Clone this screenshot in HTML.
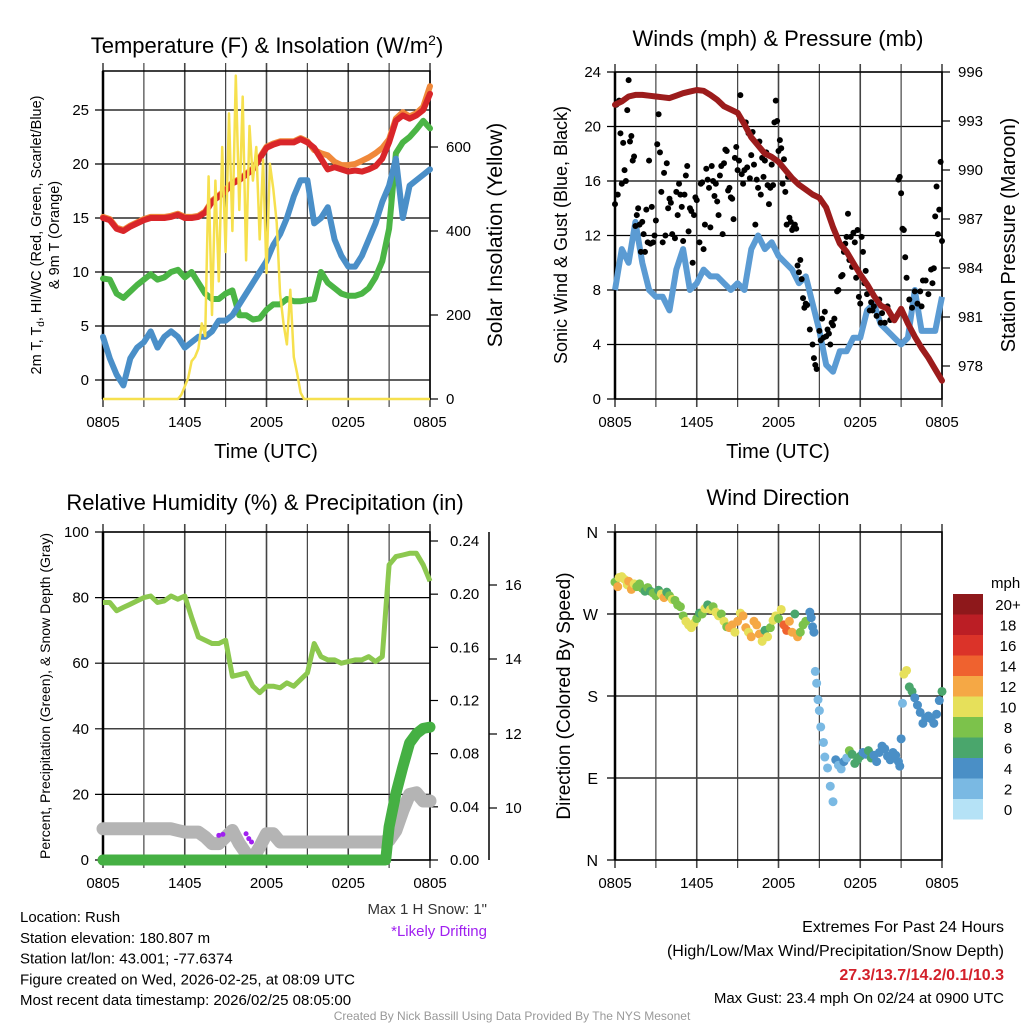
<!DOCTYPE html>
<html><head><meta charset="utf-8"><style>
html,body{margin:0;padding:0;background:#fff;}
svg{display:block;font-family:"Liberation Sans",sans-serif;}
</style></head><body>
<svg id="c" width="1024" height="1024" viewBox="0 0 1024 1024"></svg>
<script>
// ---------- DATA ----------
const tickLabels = ["0805","1405","2005","0205","0805"];
// Panel 1 (every 0.5 h)
const tempRed = [15,14.8,14,13.8,14.2,14.5,14.8,15,15,15,15.1,15.3,15,15,15.1,15.5,16.5,17,17.5,18.2,18.5,19,19.5,20.5,21.5,21.8,22,22,22,22.3,22,21.5,20.5,19.5,19.7,19.5,19.3,19.4,19.3,19.5,19.8,20.5,22,24,24.5,24.2,24.5,25,26.5,27.5].slice(0,49);
const temp9mOrange = [15.1,14.9,14.1,13.9,14.3,14.6,14.9,15.1,15.1,15.1,15.2,15.4,15.1,15.1,15.2,15.6,16.6,17.1,17.6,18.3,18.6,19.1,19.6,20.6,21.6,21.9,22.1,22.1,22.1,22.4,22.1,21.3,21,20.8,20.2,19.9,19.9,20,20.3,20.6,21,21.5,22.3,24.2,24.8,24.4,24.7,25.3,27.2];
const dewGreen = [9.4,9.3,8,7.6,8.2,8.8,9.3,9.8,9.3,9.5,10,10.2,9.5,10,9,8,7.5,7.5,8,8.3,6,6,5.6,5.7,6.5,7,7,7.5,7.3,7.3,7.4,7.5,10,9,8.5,8,7.8,7.8,8,8.5,9.5,11,14,21,22,22.5,23.2,24,23.3];
const wcBlue = [4,2,0.5,-0.5,2,3,3.5,4.5,3,4,4.5,4,3,3.5,4,4,4.5,5.5,5.5,6,7,8,9,10,11,12.5,13.5,15,17,18.5,18.5,14.5,15,16,13,11.5,10.5,10.5,11.5,13,14.5,16.5,18,20.5,15,18,18.5,19,19.5];
// insolation every 0.25 h
const insolation = [0,0,0,0,0,0,0,0,0,0,0,0,0,0,0,0,0,0,0,0,0,0,0,
 10,30,50,90,100,120,180,150,530,200,520,280,600,350,680,400,770,450,720,330,650,520,600,380,570,300,560,500,420,250,180,130,260,100,60,15,0,
 0,0,0,0,0,0,0,0,0,0,0,0,0,0,0,0,0,0,0,0,0,0,0,0,0,0,0,0,0,0,0,0,0,0,0,0,0];
// Panel 2
const windSpeed = [8,11,10,13,10,8,7.5,7.5,6.5,9.5,11,8,8.5,9.5,9,9,8.5,8,8.5,8,11,12,11,11.5,10.5,10,9.5,8.5,9,7,5,2.5,2,3.5,3.5,4.5,4.5,6.5,7,5.5,5,4.5,4,4.5,8,5,5,5,7.5];
const pressure = [994.0,994.2,994.5,994.6,994.6,994.55,994.5,994.45,994.4,994.55,994.7,994.8,994.9,994.85,994.6,994.3,993.9,993.7,993.5,992.8,992.0,991.5,991.0,990.8,990.5,990.0,989.5,989.1,988.8,988.5,988.3,987.7,986.5,985.5,985.0,984.3,983.6,983.0,982.3,981.7,981.5,980.8,981.5,980.6,979.8,979.1,978.5,977.8,977.1];
const gustHours = [0,0.1,0.2,0.3,0.4,0.5,0.6,0.7,0.8,0.9,1,1.1,1.2,1.3,1.4,1.5,1.6,1.7,1.8,1.9,2,2.1,2.2,2.3,2.4,2.5,2.6,2.7,2.8,2.9,3,3.1,3.2,3.3,3.4,3.5,3.6,3.7,3.8,3.9,4,4.1,4.2,4.4,4.5,4.6,4.7,4.8,4.9,5,5.1,5.2,5.3,5.4,5.5,5.6,5.7,5.8,5.9,6,6.2,6.3,6.4,6.5,6.6,6.7,6.8,6.9,7,7.1,7.2,7.3,7.4,7.5,7.6,7.7,7.8,7.9,8,8.1,8.2,8.3,8.4,8.5,8.6,8.7,8.8,8.9,9,9.1,9.2,9.3,9.4,9.5,9.6,9.7,9.8,9.9,10,10.1,10.2,10.3,10.4,10.5,10.6,10.7,10.8,10.9,11,11.1,11.2,11.3,11.4,11.5,11.6,11.7,11.8,11.9,12,12.1,12.2,12.3,12.4,12.5,12.6,12.7,12.8,12.9,13,13.1,13.2,13.3,13.4,13.5,13.6,13.7,13.8,13.9,14,14.1,14.3,14.5,14.6,14.7,14.8,15,15.1,15.2,15.3,15.4,15.5,15.6,15.7,15.8,15.9,16,16.1,16.3,16.4,16.6,16.7,16.8,16.9,17,17.1,17.2,17.3,17.4,17.5,17.6,17.7,17.8,17.9,18,18.1,18.2,18.3,18.4,18.5,18.7,18.8,18.9,19,19.2,19.4,19.5,19.6,19.8,20,20.2,20.5,20.8,20.9,21,21.1,21.2,21.3,21.4,21.6,21.8,22,22.2,22.4,22.5,22.6,22.8,23,23.2,23.3,23.4,23.5,23.6,23.7,23.8,23.9,24];
const gustValues = [14.3,21.6,15,21.9,19.5,15.8,18.8,16.8,16,21.2,23.4,18.9,19.3,17.5,17.8,12.7,13.5,14,12.8,10.8,13,12.1,10.8,13.9,11.5,17.5,11.4,14.1,11.5,12,13.1,18.7,20.9,18.1,15.2,11.5,16.6,12,17.3,14,14.7,14.4,12.1,11.8,15.2,13.5,15.8,15,14.1,11.6,15,16.4,17.1,12.3,14,13.8,10,13.5,14.8,14.6,11.5,15.8,15.9,11,12.8,16.9,16.1,15.5,12.6,17.1,16,14.9,15.8,14.5,13.5,16.4,17.1,12.1,17.3,18.3,18.2,15.3,15.5,14.8,14.7,13.2,17.7,18.5,16.8,17.5,22.3,16.5,15.8,16.8,20.3,17,19.5,16.2,17.9,19.6,17.2,12.8,16.1,15.5,18.9,15,17.7,16.3,17.5,18.1,15.7,14.3,15.5,17.2,15.7,20.3,21.9,20.4,18.2,19,18.4,15.8,17.6,15.2,12.8,16.3,13.3,13,12.4,12.6,12.8,12.5,9.8,9.3,10.2,8.8,7.4,6.7,7,6.9,5.1,4,3,2.5,2.2,5,4.3,5.9,4.5,6.4,4.6,5.1,4.8,4,5.6,5.4,5.9,7.9,8,9,9.1,10.8,11.4,11.9,13.6,10.2,11.9,9.7,12.2,11.5,8.9,12.4,7.5,7,11.9,10.8,8.5,9.4,7.7,6.5,7.1,6.5,6.8,6.1,7.3,5.6,6.3,5.6,6.8,5.8,5.8,16.1,16.3,15.1,12.5,12.4,10.4,8.9,7.3,6.7,7.9,7,7.9,6.8,8.7,8.7,7.7,9.5,8.5,9.6,13.4,15.6,12.1,13.9,17.4,11.6];
// Panel 3
const relHumidity = [78.5,78.5,76,77,78,79,80,80.5,78.5,79,80.5,79.5,80.5,74,68,67,66,66,67,56,56.5,57,53,51,53,53,52.5,54,53,55,57,66,62,61,61,60,60.5,61,61,62,60.5,62,90,92.5,93,93.5,93.5,90,85];
const snowDepth = [9.5,9.5,9.5,9.5,9.5,9.5,9.5,9.5,9.5,9.5,9.5,9,8.5,8.5,8.5,7,5,5,7,9,5,2,0.5,4,8,8,5.5,5.5,5.5,5.5,5.5,5.5,5.5,5.5,5.5,5.5,5.5,5.5,5.5,5.5,5.5,5.5,6,9,15,20,20.5,18,18];
const precipHours = [0,20.75,21,21.5,22,22.5,23,23.5,24];
const precipInches = [0,0,0.025,0.05,0.07,0.088,0.095,0.099,0.1];
const driftHours = [8.5,8.8,10.5,10.7,10.9];
const driftValues = [7.5,7.8,8,6.5,5.5];
// Panel 4
const dirHours = [0,0.2,0.3,0.5,0.7,0.9,1,1.2,1.4,1.6,1.8,2,2.2,2.4,2.6,2.8,3,3.2,3.4,3.6,3.8,4,4.2,4.4,4.6,4.8,5,5.2,5.4,5.6,5.8,6,6.2,6.4,6.6,6.8,7,7.2,7.4,7.6,7.8,8,8.2,8.4,8.6,8.8,9,9.2,9.4,9.6,9.8,10,10.2,10.4,10.6,10.8,11,11.2,11.4,11.6,11.8,12,12.2,12.4,12.6,12.8,13,13.2,13.4,13.6,13.8,14,14.3,14.4,14.5,14.6,14.7,14.8,14.9,15,15.1,15.3,15.4,15.6,15.8,16,16.2,16.4,16.6,16.8,17,17.2,17.4,17.6,17.8,18,18.2,18.4,18.6,18.8,19,19.2,19.4,19.6,19.8,20,20.2,20.4,20.6,20.8,20.9,21,21.1,21.2,21.4,21.6,21.8,22,22.2,22.4,22.6,22.8,23,23.2,23.4,23.6,23.8,24];
const dirDegrees = [305,300,310,311,308,302,306,297,303,300,303,298,295,299,295,293,290,296,292,288,294,290,286,285,280,278,268,262,258,255,260,265,271,270,276,280,275,278,272,268,270,262,256,255,258,250,262,271,268,255,250,245,262,258,248,240,252,245,255,263,268,265,275,258,252,262,250,270,245,250,258,262,272,266,256,250,207,194,176,164,146,129,113,101,81,64,110,104,100,108,112,120,116,106,110,114,118,116,120,112,115,108,118,125,122,114,110,118,115,108,103,133,172,204,208,190,185,178,170,162,150,156,158,155,150,160,175,185,188,190];
const dirSpeed = [8,13,10,11,10,11,12,12,10,9,8,8,7,8,6,9,8,6,10,13,7,8,10,9,8,9,8,10,10,11,10,8,7,8,11,7,10,9,10,10,8,11,9,12,12,11,12,11,13,12,10,12,13,12,13,11,7,11,8,10,11,8,10,15,15,12,13,6,13,8,9,8,5,4,4,5,3,3,3,3,3,3,3,3,3,3,4,3,3,4,3,8,7,6,7,6,5,4,6,7,4,5,5,4,5,4,5,4,5,4,4,5,3,10,10,7,6,4,5,4,5,4,4,4,5,4,4,7,8,8,8];
const speedBins = ["0","2","4","6","8","10","12","14","16","18","20+"];
const speedColors = ["#b5e2f6","#7ab9e3","#4a8fc6","#4aa66c","#7cc24b","#e6e05a","#f5a845","#ef622f","#db3329","#bb1e25","#8e181b"];

// ---------- DRAWING ----------
const NS="http://www.w3.org/2000/svg";
const svg=document.getElementById('c');
function el(tag,attrs,parent){const e=document.createElementNS(NS,tag);for(const k in attrs)e.setAttribute(k,attrs[k]);(parent||svg).appendChild(e);return e;}
function txt(x,y,s,size,anchor,parent,extra){const t=el('text',Object.assign({x:x,y:y,'font-size':size,'text-anchor':anchor||'start',fill:'#000'},extra||{}),parent);t.textContent=s;return t;}
function lin(a,b,c,d,col,w,parent){return el('line',{x1:a,y1:b,x2:c,y2:d,stroke:col,'stroke-width':w},parent);}
function pathOf(xs,ys,xf,yf){let d='';for(let i=0;i<xs.length;i++){d+=(i?'L':'M')+xf(xs[i]).toFixed(1)+','+yf(ys[i]).toFixed(1);}return d;}
const halfHours=tempRed.map((v,i)=>i*0.5);
const quarterHours=insolation.map((v,i)=>i*0.25);

function frame(g,x0,x1,y0,y1,yticks,yf,ylabels){
  yticks.forEach((v,i)=>{const y=yf(v);
    const l=lin(x0-8,y,x1,y,'#000',1.2,g);
    
    
    if(ylabels){const t=txt(x0-14,y+5,ylabels[i],15,'end',g);
      
      }
  });
  for(let k=0;k<=8;k++){const x=x0+k*(x1-x0)/8;
    const l=lin(x,y0-8,x,y1+8,'#444',k%2?1.2:1.6,g);
    
    }
  tickLabels.forEach((s,k)=>{const t=txt(x0+k*(x1-x0)/4,y1+28,s,15,'middle',g);
    
    });
  el('rect',{x:x0,y:y0,width:x1-x0,height:y1-y0,fill:'none',stroke:'#000','stroke-width':1.5},g);
  lin(x0,y0,x0,y1,'#000',2.5,g);
}

// ===== Panel 1 =====
(function(){
 const g=el('g',{});
 const x0=103,x1=430,y0=71,y1=399;
 const xf=h=>x0+h/24*(x1-x0), yf=v=>380-v*10.8, yr=v=>399-v*0.42;
 frame(g,x0,x1,y0,y1,[0,5,10,15,20,25],yf,["0","5","10","15","20","25"]);
 [0,200,400,600].forEach(v=>{lin(x1,yr(v),x1+8,yr(v),'#000',1.2,g);
   const t=txt(x1+16,yr(v)+5,String(v),15,'start',g);
   });
 const series=[[temp9mOrange,'#f0883a','orange-9m-temp-line'],[tempRed,'#d9262a','red-temp-line'],[dewGreen,'#4bb545','green-hiwc-line'],[wcBlue,'#4a8fc8','blue-dewpoint-line']];
 series.forEach(s=>{const p=el('path',{d:pathOf(halfHours,s[0],xf,yf),fill:'none',stroke:s[1],'stroke-width':6,'stroke-linejoin':'round','stroke-linecap':'round'},g);
   });
 const yl=el('path',{d:pathOf(quarterHours,insolation,xf,yr),fill:'none',stroke:'#f6e04e','stroke-width':2.5,'stroke-linejoin':'round'},g);
 
 const t1=txt(267,53,'Temperature (F) & Insolation (W/m',22,'middle',g);
 
 const ts=el('tspan',{dy:-8,'font-size':14},t1);ts.textContent='2';
 const ts2=el('tspan',{dy:8},t1);ts2.textContent=')';
 const xt=txt(266,458,'Time (UTC)',20,'middle',g);
 const yl1=txt(0,0,'',14.5,'middle',g,{transform:'translate(41,235) rotate(-90)'});
 
 const a=el('tspan',{},yl1);a.textContent='2m T, T';const b=el('tspan',{dy:3,'font-size':10},yl1);b.textContent='d';const c=el('tspan',{dy:-3},yl1);c.textContent=', HI/WC (Red, Green, Scarlet/Blue)';
 const yl2=txt(0,0,'& 9m T (Orange)',14.5,'middle',g,{transform:'translate(59,235) rotate(-90)'});
 
 const yr2=txt(0,0,'Solar Insolation (Yellow)',21,'middle',g,{transform:'translate(502,235) rotate(-90)'});
 
})();

// ===== Panel 2 =====
(function(){
 const g=el('g',{});
 const x0=615,x1=942,y0=72,y1=399;
 const xf=h=>x0+h/24*(x1-x0), yf=v=>399-v*(327/24), yr=p=>72+(996-p)*(294/18);
 frame(g,x0,x1,y0,y1,[0,4,8,12,16,20,24],yf,["0","4","8","12","16","20","24"]);
 [996,993,990,987,984,981,978].forEach(v=>{lin(x1,yr(v),x1+8,yr(v),'#000',1.2,g);
   const t=txt(x1+16,yr(v)+5,String(v),15,'start',g);
   });
 const wl=el('path',{d:pathOf(halfHours,windSpeed,xf,yf),fill:'none',stroke:'#5b9bd3','stroke-width':6,'stroke-linejoin':'round'},g);
 
 gustHours.forEach((h,i)=>{const c=el('circle',{cx:xf(h),cy:yf(gustValues[i]),r:3,fill:'#000'},g);
   });
 const pl=el('path',{d:pathOf(halfHours,pressure,xf,yr),fill:'none',stroke:'#9c1c1c','stroke-width':6,'stroke-linejoin':'round','stroke-linecap':'round'},g);
 
 const t=txt(778,46,'Winds (mph) & Pressure (mb)',22,'middle',g);
 const xt=txt(778,458,'Time (UTC)',20,'middle',g);
 const a=txt(0,0,'Sonic Wind & Gust (Blue, Black)',18,'middle',g,{transform:'translate(567,235) rotate(-90)'});
 const b=txt(0,0,'Station Pressure (Maroon)',20,'middle',g,{transform:'translate(1015,235) rotate(-90)'});
})();

// ===== Panel 3 =====
(function(){
 const g=el('g',{});
 const x0=103,x1=430,y0=532,y1=860;
 const xf=h=>x0+h/24*(x1-x0), yf=v=>860-v*3.28, yr=p=>860-p*(319/0.24);
 frame(g,x0,x1,y0,y1,[0,20,40,60,80,100],yf,["0","20","40","60","80","100"]);
 [0,0.04,0.08,0.12,0.16,0.20,0.24].forEach(v=>{lin(x1,yr(v),x1+8,yr(v),'#000',1.2,g);
   const t=txt(x1+20,yr(v)+5,v.toFixed(2),15,'start',g);
   });
 lin(489,532,489,860,'#000',1.5,g);
 [[10,808],[12,734],[14,659],[16,585]].forEach(p=>{lin(489,p[1],497,p[1],'#000',1.2,g);
   const t=txt(505,p[1]+5,String(p[0]),15,'start',g);});
 const sd=el('path',{d:pathOf(halfHours,snowDepth,xf,yf),fill:'none',stroke:'#b4b4b4','stroke-width':13,'stroke-linejoin':'round','stroke-linecap':'round'},g);
 
 driftHours.forEach((h,i)=>{const c=el('circle',{cx:xf(h),cy:yf(driftValues[i]),r:2.5,fill:'#a020f0'},g);
   });
 const pr=el('path',{d:pathOf(precipHours,precipInches,xf,yr),fill:'none',stroke:'#45b043','stroke-width':11,'stroke-linejoin':'round','stroke-linecap':'round'},g);
 
 const rh=el('path',{d:pathOf(halfHours,relHumidity,xf,yf),fill:'none',stroke:'#8cc84f','stroke-width':5,'stroke-linejoin':'round'},g);
 
 const t=txt(265,510,'Relative Humidity (%) & Precipitation (in)',22,'middle',g);
 const a=txt(0,0,'Percent, Precipitation (Green), & Snow Depth (Gray)',14,'middle',g,{transform:'translate(50,696) rotate(-90)'});
})();

// ===== Panel 4 =====
(function(){
 const g=el('g',{});
 const x0=615,x1=942,y0=532,y1=860;
 const xf=h=>x0+h/24*(x1-x0), yf=d=>860-d*(328/360);
 frame(g,x0,x1,y0,y1,[0,90,180,270,360],yf,null);
 [["N",360],["W",270],["S",180],["E",90],["N",0]].forEach(p=>{const t=txt(598,yf(p[1])+6,p[0],16,'end',g);
   });
 dirHours.forEach((h,i)=>{let b=Math.min(10,Math.floor(dirSpeed[i]/2));
   const c=el('circle',{cx:xf(h),cy:yf(dirDegrees[i]),r:4.5,fill:speedColors[b]},g);
   });
 const t=txt(778,505,'Wind Direction',22,'middle',g);
 const a=txt(0,0,'Direction (Colored By Speed)',19,'middle',g,{transform:'translate(570,696) rotate(-90)'});
 const mph=txt(991,588,'mph',15,'start',g);
 speedBins.forEach((s,k)=>{const yy=594+(10-k)*20.5;
   const r=el('rect',{x:953,y:yy,width:30,height:20.5,fill:speedColors[k]},g);
   
   const tt=txt(1008,yy+16,s,15,'middle',g);});
})();

// ===== Footer text =====
(function(){
 const g=el('g',{});
 ["Location: Rush","Station elevation: 180.807 m","Station lat/lon: 43.001; -77.6374","Figure created on Wed, 2026-02-25, at 08:09 UTC","Most recent data timestamp: 2026/02/25 08:05:00"].forEach((s,i)=>{
   const t=txt(20,922+i*20.8,s,15,'start',g);});
 let t=txt(487,914,'Max 1 H Snow: 1"',15,'end',g,{fill:'#333'});
 t=txt(487,936,'*Likely Drifting',15,'end',g,{fill:'#a020f0'});
 t=txt(1004,932,'Extremes For Past 24 Hours',16,'end',g);
 t=txt(1004,956,'(High/Low/Max Wind/Precipitation/Snow Depth)',16,'end',g);
 t=txt(1004,980,'27.3/13.7/14.2/0.1/10.3',16,'end',g,{fill:'#d3202a','font-weight':'bold'});
 t=txt(1004,1003,'Max Gust: 23.4 mph On 02/24 at 0900 UTC',15,'end',g);
 t=txt(512,1020,'Created By Nick Bassill Using Data Provided By The NYS Mesonet',12,'middle',g,{fill:'#999'});
})();
</script>
</body></html>
